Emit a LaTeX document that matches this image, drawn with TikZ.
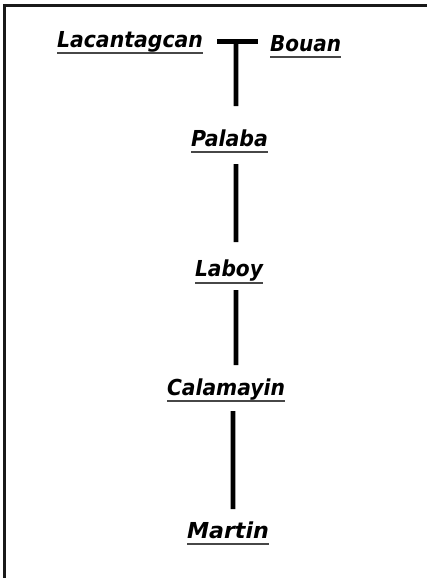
\documentclass[tikz,border=0pt]{standalone}
\usepackage{fontspec}
\setmainfont{DejaVu Sans}
\usepackage{graphicx}
\newcommand\nmw[2]{\resizebox{#1}{\height}{#2}}
\begin{document}
\begin{tikzpicture}[x=1pt,y=-1pt,
  lbl/.style={inner sep=0pt,outer sep=0pt,anchor=base west,font=\fontsize{22}{26}\selectfont\bfseries\itshape},
  uline/.style={draw=black!72,line width=2pt},
  link/.style={draw=black,line width=4.6pt},
  frame/.style={draw=black!90,line width=2.5pt}]
\useasboundingbox (0,0) rectangle (427,578);
\draw[frame] (4.7,4) -- (4.7,578);
\draw[frame] (3.5,5.5) -- (427,5.5);
% names
\node[lbl] (lac) at (57,48) {\nmw{146pt}{Lacantagcan}};
\node[lbl] (bou) at (270,51.7) {\nmw{71pt}{Bouan}};
\node[lbl] (pal) at (191,146) {\nmw{77pt}{Palaba}};
\node[lbl] (lab) at (195,276) {\nmw{68pt}{Laboy}};
\node[lbl] (cal) at (167,395) {\nmw{118pt}{Calamayin}};
\node[lbl] (mar) at (187,538) {\nmw{82pt}{Martin}};
% underlines
\foreach \n/\d in {lac/5.2,bou/5.5,pal/6,lab/7,cal/6,mar/6}{
  \draw[uline] ([yshift=-\d pt]\n.base west) -- ([yshift=-\d pt]\n.base east);
}
% connectors
\draw[link] ([xshift=14pt,yshift=6.5pt]lac.base east) -- ([xshift=-12pt,yshift=10.2pt]bou.base west);
\coordinate (tj) at (236,41.5);
\draw[link] (tj) -- ([xshift=6.5pt,yshift=40pt]pal.base);
\draw[link] ([xshift=6.5pt,yshift=-18pt]pal.base) -- ([xshift=7pt,yshift=34pt]lab.base);
\draw[link] ([xshift=7pt,yshift=-14pt]lab.base) -- ([xshift=10pt,yshift=30pt]cal.base);
\draw[link] ([xshift=7pt,yshift=-16pt]cal.base) -- ([xshift=5pt,yshift=29pt]mar.base);
\end{tikzpicture}
\end{document}
